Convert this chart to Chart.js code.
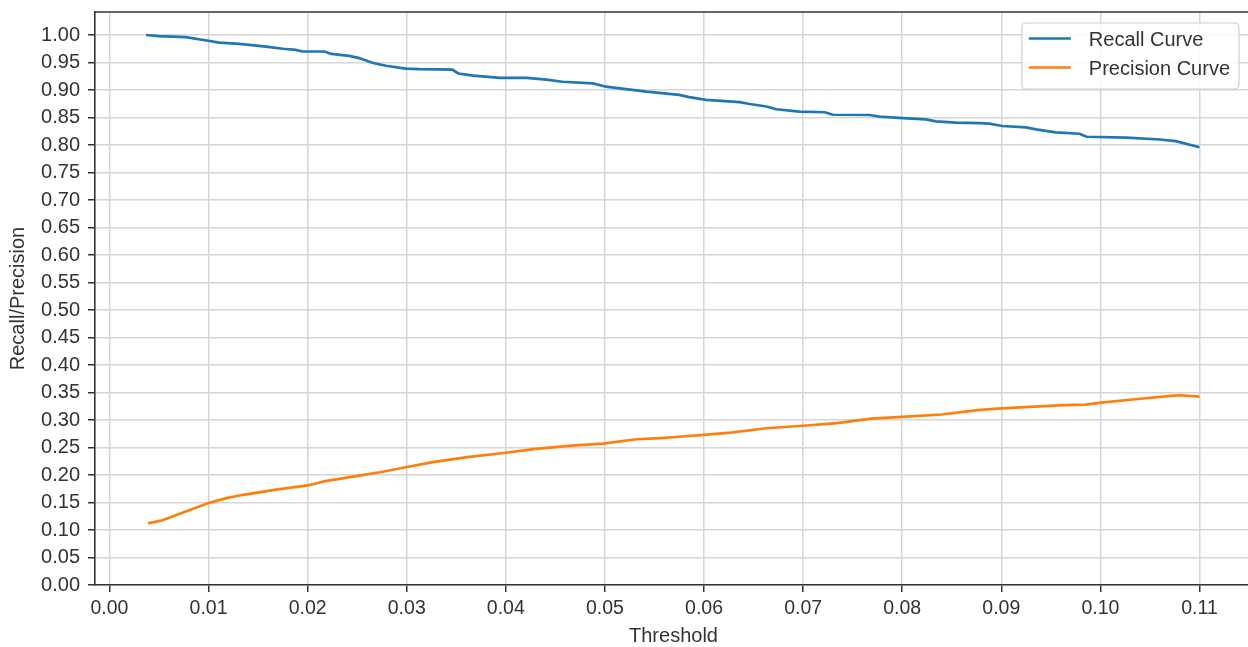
<!DOCTYPE html>
<html><head><meta charset="utf-8">
<script src="https://cdn.jsdelivr.net/npm/chart.js@4.4.0/dist/chart.umd.min.js"></script>
<style>
html,body{margin:0;padding:0;overflow:hidden;background:#fff;width:1248px;height:647px}
#wrap{position:absolute;left:0;top:0;width:1256px;height:647px}
</style></head><body>
<div id="wrap"><canvas id="c"></canvas></div>
<script>
const seriesLabels = ['Recall Curve', 'Precision Curve'];
const recallX = [0.0037,0.0050,0.0077,0.0098,0.0111,0.0131,0.0158,0.0175,0.0188,0.0195,0.0217,0.0224,0.0242,0.0252,0.0266,0.0279,0.0299,0.0313,0.0346,0.0352,0.0367,0.0394,0.0421,0.0441,0.0457,0.0488,0.0501,0.0515,0.0542,0.0575,0.0585,0.0602,0.0636,0.0646,0.0663,0.0673,0.0696,0.0722,0.0730,0.0767,0.0777,0.0801,0.0824,0.0834,0.0854,0.0878,0.0888,0.0901,0.0925,0.0935,0.0955,0.0979,0.0986,0.1026,0.1060,0.1076,0.1100];
const recallY = [1.000,0.998,0.996,0.990,0.986,0.984,0.979,0.975,0.973,0.970,0.970,0.9655,0.962,0.958,0.949,0.944,0.939,0.938,0.937,0.930,0.926,0.922,0.922,0.919,0.915,0.912,0.906,0.903,0.897,0.891,0.887,0.882,0.878,0.8745,0.870,0.865,0.8605,0.8595,0.855,0.8545,0.8515,0.849,0.8467,0.843,0.8405,0.8398,0.8388,0.8345,0.832,0.8285,0.823,0.8205,0.815,0.8133,0.810,0.807,0.796];
const precisionX = [0.0039,0.0052,0.0073,0.0100,0.0118,0.0135,0.0170,0.0200,0.0218,0.0252,0.0273,0.0299,0.0325,0.0359,0.0398,0.0428,0.0463,0.0498,0.0532,0.0556,0.0578,0.0600,0.0627,0.0663,0.0700,0.0734,0.0769,0.0800,0.0840,0.0876,0.0900,0.0929,0.0964,0.0985,0.1001,0.1035,0.1071,0.1081,0.1100];
const precisionY = [0.112,0.117,0.131,0.149,0.158,0.164,0.174,0.181,0.189,0.199,0.205,0.214,0.223,0.232,0.240,0.247,0.253,0.257,0.265,0.267,0.270,0.2728,0.277,0.285,0.2895,0.2944,0.3025,0.3056,0.310,0.318,0.321,0.324,0.3272,0.328,0.3315,0.3377,0.3438,0.3450,0.3426];
const xTicks = [0.00,0.01,0.02,0.03,0.04,0.05,0.06,0.07,0.08,0.09,0.10,0.11];
const yTicks = [0.00,0.05,0.10,0.15,0.20,0.25,0.30,0.35,0.40,0.45,0.50,0.55,0.60,0.65,0.70,0.75,0.80,0.85,0.90,0.95,1.00];
const seriesColors = ['#1f77b4', '#ff7f0e'];

const FONT = "'Liberation Sans', Arial, sans-serif";
const TEXT = '#333333';

function pts(xs, ys) { return xs.map((x, i) => ({x: x, y: ys[i]})); }
function noPad(s) { s.paddingTop = 0; s.paddingBottom = 0; s.paddingLeft = 0; s.paddingRight = 0; }

const framePlugin = {
  id: 'frame',
  afterDraw(chart) {
    const ctx = chart.ctx, a = chart.chartArea;
    ctx.save();
    ctx.strokeStyle = '#333333';
    ctx.lineWidth = 1.6;
    ctx.beginPath();
    ctx.moveTo(a.left - 0.8, a.top);
    ctx.lineTo(a.right, a.top);
    ctx.stroke();
    ctx.font = '20px ' + FONT;
    const ds = chart.data.datasets;
    let maxW = 0;
    ds.forEach(d => { maxW = Math.max(maxW, ctx.measureText(d.label).width); });
    const w = 67 + maxW + 9, h = 66;
    const bx = a.right - 13 - w, by = a.top + 11;
    ctx.fillStyle = 'rgba(255,255,255,0.85)';
    ctx.strokeStyle = '#d0d0d0';
    ctx.lineWidth = 1.2;
    ctx.beginPath();
    ctx.roundRect(bx, by, w, h, 4);
    ctx.fill();
    ctx.stroke();
    ds.forEach((d, i) => {
      const cy = by + 17 + i * 29;
      ctx.strokeStyle = d.borderColor;
      ctx.lineWidth = 2.6;
      ctx.beginPath();
      ctx.moveTo(bx + 7, cy - 1.5);
      ctx.lineTo(bx + 49, cy - 1.5);
      ctx.stroke();
      ctx.fillStyle = TEXT;
      ctx.textAlign = 'left';
      ctx.textBaseline = 'middle';
      ctx.fillText(d.label, bx + 67, cy);
    });
    ctx.restore();
  }
};

new Chart(document.getElementById('c'), {
  type: 'scatter',
  data: {
    datasets: [
      {label: seriesLabels[0], data: pts(recallX, recallY), showLine: true, borderColor: seriesColors[0], backgroundColor: seriesColors[0], borderWidth: 2.7, pointRadius: 0, tension: 0},
      {label: seriesLabels[1], data: pts(precisionX, precisionY), showLine: true, borderColor: seriesColors[1], backgroundColor: seriesColors[1], borderWidth: 2.7, pointRadius: 0, tension: 0}
    ]
  },
  options: {
    responsive: true,
    maintainAspectRatio: false,
    animation: false,
    devicePixelRatio: 1,
    layout: {padding: {left: 0, top: 12, right: 4, bottom: 0}},
    plugins: {legend: {display: false}, tooltip: {enabled: false}},
    scales: {
      x: {
        type: 'linear', position: 'bottom',
        min: -0.00146, max: 0.1153,
        afterBuildTicks: s => { s.ticks = xTicks.map(v => ({value: v})); },
        afterFit: s => { s.height = 62; noPad(s); },
        ticks: {callback: v => Number(v).toFixed(2), font: {family: FONT, size: 19.5}, color: TEXT, padding: 5, maxRotation: 0, autoSkip: false},
        grid: {color: '#d6d6d6', lineWidth: 1.5, tickColor: '#333333', tickLength: 7, tickWidth: 1.5},
        border: {color: '#333333', width: 1.6},
        title: {display: true, text: 'Threshold', color: TEXT, font: {family: FONT, size: 20, lineHeight: 1}, padding: {top: 0, bottom: 1}}
      },
      y: {
        type: 'linear', position: 'left',
        min: 0, max: 1.0418,
        afterBuildTicks: s => { s.ticks = yTicks.map(v => ({value: v})); },
        afterFit: s => { s.width = 95; noPad(s); },
        ticks: {callback: v => Number(v).toFixed(2), font: {family: FONT, size: 20}, color: TEXT, padding: 8, autoSkip: false},
        grid: {color: '#d6d6d6', lineWidth: 1.5, tickColor: '#333333', tickLength: 7, tickWidth: 1.5},
        border: {color: '#333333', width: 1.6},
        title: {display: true, text: 'Recall/Precision', color: TEXT, font: {family: FONT, size: 20, lineHeight: 1}, padding: {top: 8, bottom: 0}}
      }
    }
  },
  plugins: [framePlugin]
});
</script>
</body></html>
